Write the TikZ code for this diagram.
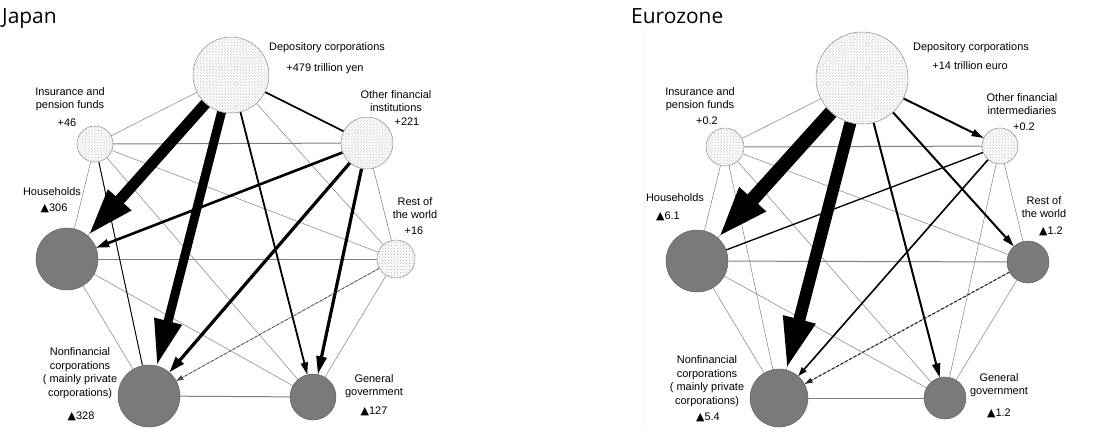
\documentclass[tikz,border=0pt]{standalone}
\usepackage{fontspec}
\setmainfont{Liberation Sans}
\newfontfamily\titlefont{Open Sans}
\newfontfamily\trifont{DejaVu Sans}
\usetikzlibrary{arrows.meta,patterns,backgrounds}
\newcommand{\down}{{\trifont ▲}}

\tikzset{
  fin/.style={circle,inner sep=0pt,draw=black!45,line width=0.5bp,preaction={fill=white},pattern=crosshatch dots,pattern color=black!30},
  real/.style={circle,inner sep=0pt,draw=black!62,line width=0.5bp,fill=black!52},
  lab/.style={align=center,inner sep=0pt,font=\fontsize{11}{13.5}\selectfont},
  link/.style={black!50,line width=0.5bp},
  rung/.style={black!50,line width=1bp},
  flow/.style={black,line width=#1},
  head/.style 2 args={-{Triangle[length=#1,width=#2]}},
}

\begin{document}
\begin{tikzpicture}[x=1bp,y=-1bp]
  \useasboundingbox (0,0) rectangle (1099,428);
  % panel titles
  \node[anchor=base west,inner sep=0pt,font=\titlefont\fontsize{21}{21}\selectfont] (jtitle) at (2,23) {Japan};
  \node[anchor=base west,inner sep=0pt,font=\titlefont\fontsize{21}{21}\selectfont] (etitle) at (631,23) {Eurozone};
  \draw[cyan!8,line width=1bp] (644,30) -- (644,428);

  % Japan sectors
  \node[fin,minimum size=76bp] (jdep) at (231,75) {};
  \node[fin,minimum size=36bp] (jins) at (95,144) {};
  \node[fin,minimum size=52bp] (joth) at (367,143) {};
  \node[real,minimum size=62bp] (jhou) at (67,259) {};
  \node[fin,minimum size=38bp] (jrow) at (396,259) {};
  \node[real,minimum size=62bp] (jnon) at (149,396) {};
  \node[real,minimum size=46bp] (jgov) at (313,397) {};

  % Eurozone sectors
  \node[fin,minimum size=92bp] (edep) at (862,78) {};
  \node[fin,minimum size=38bp] (eins) at (725,147) {};
  \node[fin,minimum size=36bp] (eoth) at (1000,146) {};
  \node[real,minimum size=62bp] (ehou) at (697,261) {};
  \node[real,minimum size=42bp] (erow) at (1028,262) {};
  \node[real,minimum size=58bp] (enon) at (779,398) {};
  \node[real,minimum size=42bp] (egov) at (945,398) {};

  % labels, Japan
  \node[lab] (jdeplab) at (327,48) {Depository corporations};
  \node[lab] (jdepval) at (325,69) {+479 trillion yen};
  \node[lab] (jinslab) at (70,99) {Insurance and\\pension funds};
  \node[lab] (jinsval) at (67,123) {+46};
  \node[lab] (jothlab) at (396,101) {Other financial\\institutions};
  \node[lab] (jothval) at (407,122) {+221};
  \node[lab] (jhoulab) at (52,192) {Households};
  \node[lab] (jhouval) at (54,208) {\down306};
  \node[lab] (jrowlab) at (415,208) {Rest of\\the world};
  \node[lab] (jrowval) at (414,231) {+16};
  \node[lab] (jnonlab) at (80,373) {Nonfinancial\\corporations\\( mainly private\\corporations)};
  \node[lab] (jnonval) at (81,416) {\down328};
  \node[lab] (jgovlab) at (374,386) {General\\government};
  \node[lab] (jgovval) at (374,411) {\down127};

  % labels, Eurozone
  \node[lab] (edeplab) at (971,48) {Depository corporations};
  \node[lab] (edepval) at (970,66) {+14 trillion euro};
  \node[lab] (einslab) at (700,99) {Insurance and\\pension funds};
  \node[lab] (einsval) at (707,121) {+0.2};
  \node[lab] (eothlab) at (1022,104) {Other financial\\intermediaries};
  \node[lab] (eothval) at (1024,127) {+0.2};
  \node[lab] (ehoulab) at (675,198) {Households};
  \node[lab] (ehouval) at (668,216) {\down6.1};
  \node[lab] (erowlab) at (1044,207) {Rest of\\the world};
  \node[lab] (erowval) at (1051,231) {\down1.2};
  \node[lab] (enonlab) at (707,381) {Nonfinancial\\corporations\\( mainly private\\corporations)};
  \node[lab] (enonval) at (708,417) {\down5.4};
  \node[lab] (egovlab) at (999,385) {General\\government};
  \node[lab] (egovval) at (999,413) {\down1.2};

  \begin{scope}[on background layer]
    % every pair of sectors
    \foreach \p in {j,e}{
      \foreach \a/\b in {dep/ins,dep/oth,dep/hou,dep/row,dep/non,dep/gov,ins/hou,ins/row,ins/non,ins/gov,oth/hou,oth/row,oth/non,oth/gov,hou/non,hou/gov,row/non,row/gov}
        \draw[link] (\p\a) -- (\p\b);
      \foreach \a/\b in {ins/oth,hou/row,non/gov}
        \draw[rung] (\p\a) -- (\p\b);
    }
    % Japan flows
    \draw[flow=11bp,head={48bp}{28bp}] (jdep) -- (jhou);
    \draw[flow=9bp,head={46bp}{26bp}] (jdep) -- (jnon);
    \draw[flow=1.8bp,head={12bp}{7bp}] (jdep) -- (jgov);
    \draw[flow=1.6bp] (jdep) -- (joth);
    \draw[flow=2.6bp,head={13bp}{8bp}] (joth) -- (jhou);
    \draw[flow=3.2bp,head={16bp}{10bp}] (joth) -- (jnon);
    \draw[flow=3.2bp,head={18bp}{10bp}] (joth) -- (jgov);
    \draw[flow=0.9bp] (jins) -- (jnon);
    \draw[flow=0.7bp,black!70,densely dashed,head={7bp}{5bp}] (jrow) -- (jnon);
    % Eurozone flows
    \draw[flow=14bp,head={52bp}{32bp}] (edep) -- (ehou);
    \draw[flow=12bp,head={52bp}{30bp}] (edep) -- (enon);
    \draw[flow=2bp,head={12bp}{7bp}] (edep) -- (eoth);
    \draw[flow=2bp,head={12bp}{7bp}] (edep) -- (erow);
    \draw[flow=2bp,head={14bp}{8bp}] (edep) -- (egov);
    \draw[flow=1.3bp] (eoth) -- (ehou);
    \draw[flow=1.6bp,head={9bp}{6bp}] (eoth) -- (enon);
    \draw[flow=1.1bp,black!85,densely dashed,head={8bp}{5bp}] (erow) -- (enon);
  \end{scope}
\end{tikzpicture}
\end{document}
